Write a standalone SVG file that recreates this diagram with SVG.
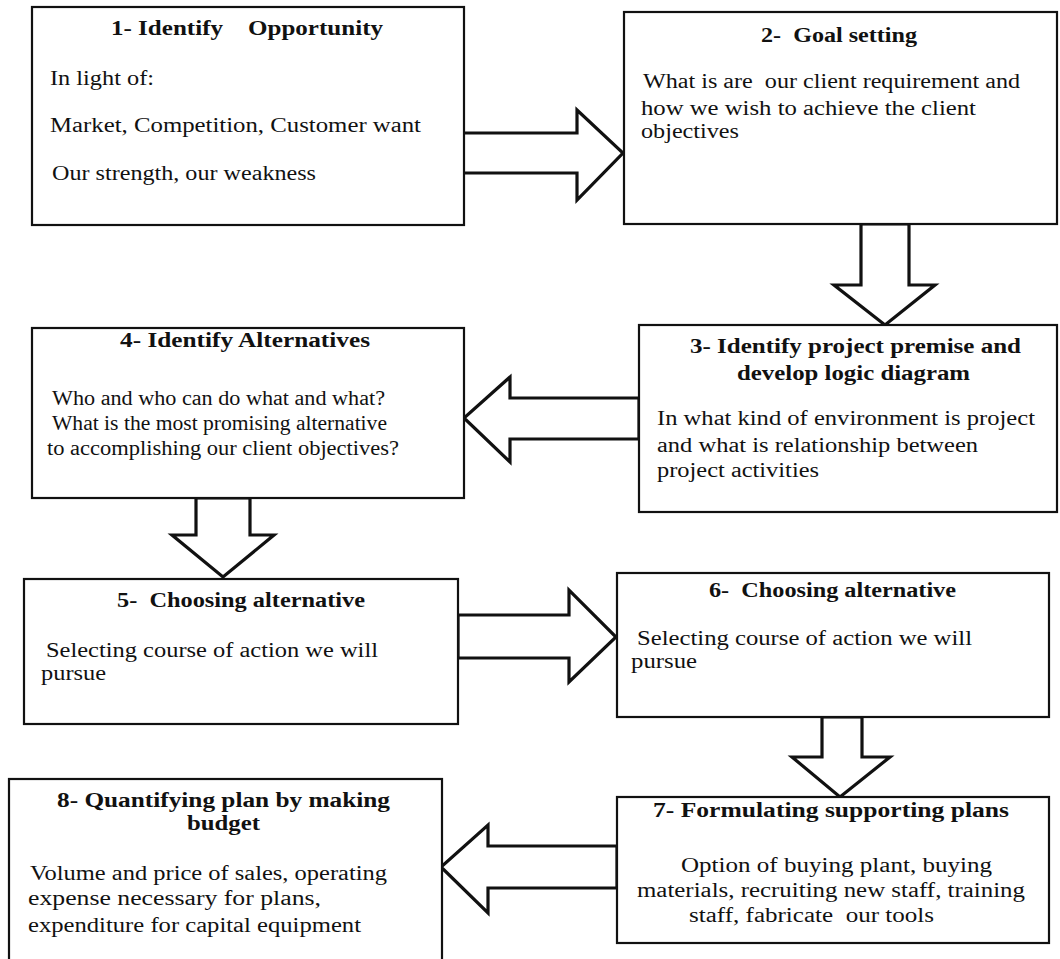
<svg xmlns="http://www.w3.org/2000/svg" width="1060" height="959" viewBox="0 0 1060 959">
<style>
.box{fill:#fff;stroke:#111;stroke-width:2.2}
.arr{fill:#fff;stroke:#111;stroke-width:3.2;stroke-linejoin:miter}
text{font-family:"Liberation Serif","Times New Roman",serif;fill:#111;white-space:pre}
.t{font-size:20px;font-weight:bold}
.b{font-size:20.5px}
</style>
<rect width="1060" height="959" fill="#fff"/>
<g id="connectors">
<polygon class="arr" points="463,133 577,133 577,110 623,153 577,200 577,173 463,173"/>
<polygon class="arr" points="861,224 861,285 834,285 885,325 935,285 909,285 909,224"/>
<polygon class="arr" points="639,398 510,398 510,377 464,418 510,462 510,439 639,439"/>
<polygon class="arr" points="196,498 196,535 172,535 223,577 274,535 250,535 250,498"/>
<polygon class="arr" points="458,615 569,615 569,590 616,637 569,682 569,658 458,658"/>
<polygon class="arr" points="822,717 822,757 792,757 840,797 890,757 862,757 862,717"/>
<polygon class="arr" points="617,846 488,846 488,825 441,867 488,913 488,888 617,888"/>
</g>
<g id="node1">
<rect class="box" x="32" y="7" width="432" height="218"/>
<text class="t" x="111" y="35" textLength="272" lengthAdjust="spacingAndGlyphs" xml:space="preserve">1- Identify    Opportunity</text>
<text class="b" x="50" y="85" textLength="104" lengthAdjust="spacingAndGlyphs">In light of:</text>
<text class="b" x="50" y="132" textLength="371" lengthAdjust="spacingAndGlyphs">Market, Competition, Customer want</text>
<text class="b" x="52" y="180" textLength="264" lengthAdjust="spacingAndGlyphs">Our strength, our weakness</text>
</g>
<g id="node2">
<rect class="box" x="624" y="12" width="433" height="212"/>
<text class="t" x="761" y="42" textLength="156" lengthAdjust="spacingAndGlyphs" xml:space="preserve">2-  Goal setting</text>
<text class="b" x="643" y="88" textLength="377" lengthAdjust="spacingAndGlyphs" xml:space="preserve">What is are  our client requirement and</text>
<text class="b" x="641" y="115" textLength="335" lengthAdjust="spacingAndGlyphs">how we wish to achieve the client</text>
<text class="b" x="641" y="138" textLength="98" lengthAdjust="spacingAndGlyphs">objectives</text>
</g>
<g id="node3">
<rect class="box" x="639" y="325" width="418" height="187"/>
<text class="t" x="690" y="353" textLength="331" lengthAdjust="spacingAndGlyphs">3- Identify project premise and</text>
<text class="t" x="737" y="380" textLength="233" lengthAdjust="spacingAndGlyphs">develop logic diagram</text>
<text class="b" x="657" y="425" textLength="378" lengthAdjust="spacingAndGlyphs">In what kind of environment is project</text>
<text class="b" x="657" y="452" textLength="321" lengthAdjust="spacingAndGlyphs">and what is relationship between</text>
<text class="b" x="657" y="477" textLength="162" lengthAdjust="spacingAndGlyphs">project activities</text>
</g>
<g id="node4">
<rect class="box" x="32" y="328" width="432" height="170"/>
<text class="t" x="120" y="347" textLength="250" lengthAdjust="spacingAndGlyphs">4- Identify Alternatives</text>
<text class="b" x="52" y="405" textLength="333" lengthAdjust="spacingAndGlyphs">Who and who can do what and what?</text>
<text class="b" x="52" y="430" textLength="335" lengthAdjust="spacingAndGlyphs">What is the most promising alternative</text>
<text class="b" x="47" y="455" textLength="352" lengthAdjust="spacingAndGlyphs">to accomplishing our client objectives?</text>
</g>
<g id="node5">
<rect class="box" x="24" y="579" width="434" height="145"/>
<text class="t" x="117" y="607" textLength="248" lengthAdjust="spacingAndGlyphs" xml:space="preserve">5-  Choosing alternative</text>
<text class="b" x="46" y="657" textLength="332" lengthAdjust="spacingAndGlyphs">Selecting course of action we will</text>
<text class="b" x="41" y="680" textLength="65" lengthAdjust="spacingAndGlyphs">pursue</text>
</g>
<g id="node6">
<rect class="box" x="617" y="573" width="432" height="144"/>
<text class="t" x="709" y="597" textLength="247" lengthAdjust="spacingAndGlyphs" xml:space="preserve">6-  Choosing alternative</text>
<text class="b" x="637" y="645" textLength="335" lengthAdjust="spacingAndGlyphs">Selecting course of action we will</text>
<text class="b" x="631" y="668" textLength="66" lengthAdjust="spacingAndGlyphs">pursue</text>
</g>
<g id="node7">
<rect class="box" x="617" y="797" width="432" height="146"/>
<text class="t" x="653" y="817" textLength="356" lengthAdjust="spacingAndGlyphs">7- Formulating supporting plans</text>
<text class="b" x="681" y="872" textLength="311" lengthAdjust="spacingAndGlyphs">Option of buying plant, buying</text>
<text class="b" x="637" y="897" textLength="388" lengthAdjust="spacingAndGlyphs">materials, recruiting new staff, training</text>
<text class="b" x="689" y="922" textLength="245" lengthAdjust="spacingAndGlyphs" xml:space="preserve">staff, fabricate  our tools</text>
</g>
<g id="node8">
<rect class="box" x="9" y="779" width="433" height="200"/>
<text class="t" x="57" y="807" textLength="333" lengthAdjust="spacingAndGlyphs">8- Quantifying plan by making</text>
<text class="t" x="187" y="830" textLength="73" lengthAdjust="spacingAndGlyphs">budget</text>
<text class="b" x="30" y="880" textLength="357" lengthAdjust="spacingAndGlyphs">Volume and price of sales, operating</text>
<text class="b" x="28" y="905" textLength="293" lengthAdjust="spacingAndGlyphs">expense necessary for plans,</text>
<text class="b" x="28" y="932" textLength="333" lengthAdjust="spacingAndGlyphs">expenditure for capital equipment</text>
</g>
</svg>
